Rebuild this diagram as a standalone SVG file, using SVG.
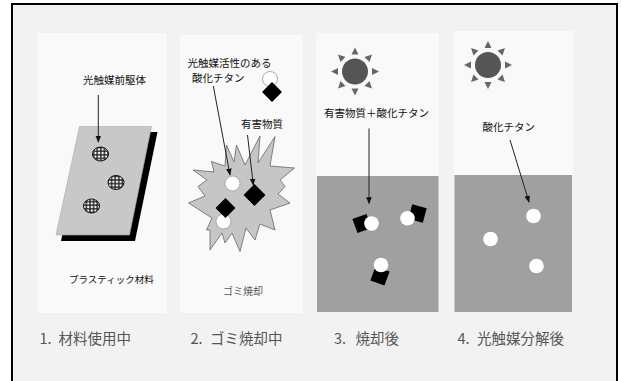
<svg xmlns="http://www.w3.org/2000/svg" width="621" height="381" viewBox="0 0 621 381">
  <style>
    text { font-family: "Noto Sans CJK JP", "Noto Sans", sans-serif; fill: #111; }
    .lbl { font-size: 10.5px; }
    .cap { font-size: 14.5px; fill: #555; }
    .panel { fill: #f9f9f9; stroke: #fbfbfb; stroke-width: 1; }
    .ground { fill: #a0a0a0; }
    .arrow { stroke: #222; stroke-width: 1; fill: none; marker-end: url(#head); }
    .ti { fill: #fff; stroke: #999; stroke-width: 0.8; }
    .ti2 { fill: #fff; }
    .bad { fill: #000; }
    .sunbody { fill: #555; }
    .ray { fill: #666; }
  </style>
  <defs>
    <marker id="head" viewBox="0 0 10 10" refX="9" refY="5" markerWidth="7" markerHeight="7" orient="auto" markerUnits="userSpaceOnUse">
      <path d="M0,1 L10,5 L0,9 Z" fill="#111"/>
    </marker>
    <pattern id="grid" width="3.6" height="3.6" patternUnits="userSpaceOnUse">
      <rect width="3.6" height="3.6" fill="#222"/>
      <rect x="0.7" y="0.7" width="2.2" height="2.2" fill="#fff"/>
    </pattern>
    <g id="sun">
      <circle r="13" class="sunbody"/>
      <g class="ray">
        <path d="M0,-24 L-3.5,-17 L3.5,-17 Z"/>
        <path d="M0,-24 L-3.5,-17 L3.5,-17 Z" transform="rotate(45)"/>
        <path d="M0,-24 L-3.5,-17 L3.5,-17 Z" transform="rotate(90)"/>
        <path d="M0,-24 L-3.5,-17 L3.5,-17 Z" transform="rotate(135)"/>
        <path d="M0,-24 L-3.5,-17 L3.5,-17 Z" transform="rotate(180)"/>
        <path d="M0,-24 L-3.5,-17 L3.5,-17 Z" transform="rotate(225)"/>
        <path d="M0,-24 L-3.5,-17 L3.5,-17 Z" transform="rotate(270)"/>
        <path d="M0,-24 L-3.5,-17 L3.5,-17 Z" transform="rotate(315)"/>
      </g>
    </g>
  </defs>

  <!-- page frame -->
  <rect width="621" height="381" fill="#fff"/>
  <rect x="12" y="4" width="605" height="400" fill="#f2f2f2" stroke="#000" stroke-width="2"/>

  <!-- stage 1: material in use -->
  <g id="stage1">
    <rect class="panel" x="38.5" y="33.5" width="127" height="279"/>
    <polygon points="84,132 157.5,132 135,241 61,241" fill="#000"/>
    <polygon points="79.5,126.5 151.5,126.5 129.5,235 56,235" fill="#c8c8c8" stroke="#aaa" stroke-width="0.6"/>
    <ellipse cx="100.5" cy="154" rx="8" ry="7" fill="url(#grid)" stroke="#111" stroke-width="1"/>
    <ellipse cx="116" cy="182.5" rx="8" ry="7" fill="url(#grid)" stroke="#111" stroke-width="1"/>
    <ellipse cx="91.5" cy="206" rx="8" ry="7" fill="url(#grid)" stroke="#111" stroke-width="1"/>
    <text class="lbl" x="83" y="84">光触媒前駆体</text>
    <text x="69" y="283" style="font-size:9.5px">プラスティック材料</text>
  </g>

  <!-- stage 2: incineration -->
  <g id="stage2">
    <rect class="panel" x="181" y="35.5" width="120.5" height="277"/>
    <text class="lbl" x="187.5" y="67">光触媒活性のある</text>
    <text class="lbl" x="192" y="82">酸化チタン</text>
    <circle class="ti" cx="270" cy="79" r="7.5"/>
    <polygon class="bad" points="272,82 282,92 272,102 262,92"/>
    <text class="lbl" x="241" y="128">有害物質</text>
    <polygon points="236.5,145 245,165 260,136 258,163 275,136.5 270,166 294.5,168 280,180 285,186.5 278,194 290,203 270,210 275,230 260,224 255,240 246,228 240,251.5 232,233 225,243 222,233 210,250 210,230 206.5,230 212,218 188.5,203 205,196 198,186.5 207,180 193,170 214,172 211.5,161.5 225,166 226.5,145 234,162"
             fill="#c6c6c6" stroke="#666" stroke-width="0.8" stroke-linejoin="miter"/>
    <circle class="ti" cx="232.5" cy="183.5" r="7.5"/>
    <circle class="ti" cx="223.5" cy="221.5" r="7.5"/>
    <polygon class="bad" points="254.5,184 265.5,195 254.5,206 243.5,195"/>
    <polygon class="bad" points="225.5,198 235.5,208 225.5,218 215.5,208"/>
    <text x="223" y="295" style="font-size:10px;fill:#555">ゴミ焼却</text>
  </g>

  <!-- stage 3: after incineration -->
  <g id="stage3">
    <rect class="panel" x="317" y="34" width="121.5" height="142"/>
    <rect class="ground" x="317" y="176" width="121.5" height="136"/>
    <use href="#sun" x="355" y="71.5"/>
    <text class="lbl" x="324" y="117">有害物質＋酸化チタン</text>
    <rect class="bad" x="354.5" y="216" width="15" height="15" transform="rotate(-20 362 223.5)"/>
    <circle class="ti2" cx="371.5" cy="223.5" r="7.3"/>
    <rect class="bad" x="410" y="206" width="15" height="15" transform="rotate(15 417.5 213.5)"/>
    <circle class="ti2" cx="407.5" cy="218.3" r="7.3"/>
    <rect class="bad" x="372.5" y="268.5" width="15" height="15" transform="rotate(20 380 276)"/>
    <circle class="ti2" cx="381" cy="265" r="7.3"/>
  </g>

  <!-- stage 4: after photocatalytic decomposition -->
  <g id="stage4">
    <rect class="panel" x="454.5" y="31.5" width="117.5" height="143.5"/>
    <rect class="ground" x="454.5" y="175" width="117.5" height="137"/>
    <use href="#sun" x="488" y="65"/>
    <text class="lbl" x="482.5" y="130.5">酸化チタン</text>
    <circle class="ti2" cx="533.5" cy="216" r="7.3"/>
    <circle class="ti2" cx="490.5" cy="239" r="7.3"/>
    <circle class="ti2" cx="536.5" cy="266" r="7.3"/>
  </g>

  <!-- pointer arrows -->
  <g id="connectors">
    <line class="arrow" x1="98.3" y1="95" x2="98.3" y2="142"/>
    <line class="arrow" x1="213.3" y1="86" x2="230" y2="175"/>
    <line class="arrow" x1="247.5" y1="135" x2="253.3" y2="185"/>
    <line class="arrow" x1="369" y1="128.5" x2="369" y2="203.5"/>
    <line class="arrow" x1="510" y1="140" x2="529" y2="202"/>
  </g>

  <!-- step captions -->
  <g id="captions">
    <text class="cap" x="39.5" y="344">1.<tspan x="58.5">材料使用中</tspan></text>
    <text class="cap" x="190.5" y="344">2.<tspan x="210">ゴミ焼却中</tspan></text>
    <text class="cap" x="334" y="344">3.<tspan x="355.5">焼却後</tspan></text>
    <text class="cap" x="457.5" y="344">4.<tspan x="477">光触媒分解後</tspan></text>
  </g>
</svg>
